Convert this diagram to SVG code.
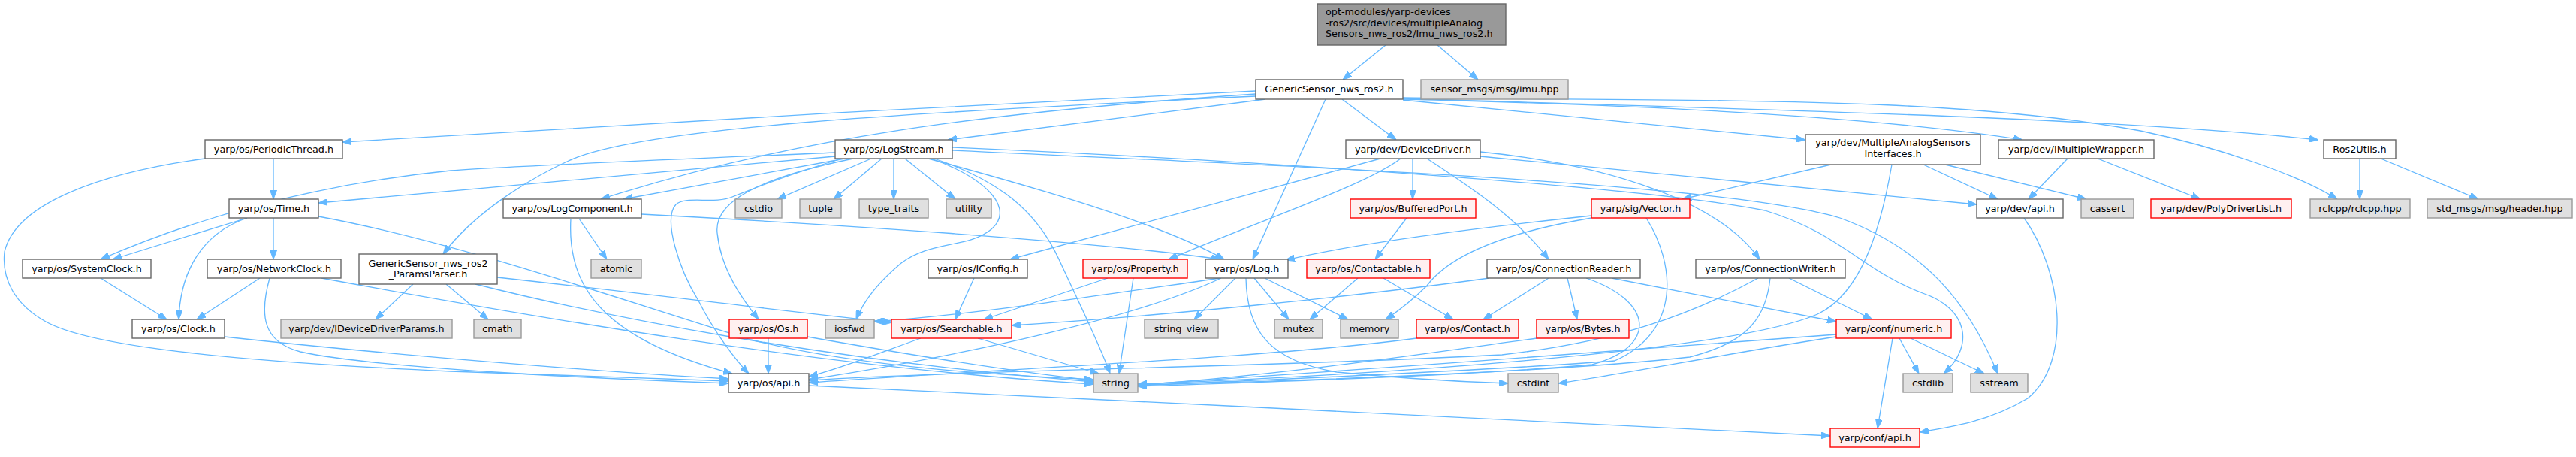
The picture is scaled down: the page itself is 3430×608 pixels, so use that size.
<svg xmlns="http://www.w3.org/2000/svg" width="3430" height="608" viewBox="0 0 3430 608">
<style>
.e path{fill:none;stroke:#63b8ff;stroke-width:1.3;marker-end:url(#a)}
rect{stroke-width:1.4}
.w rect{fill:#fff;stroke:#666}
.g rect{fill:#e0e0e0;stroke:#999}
.r rect{fill:#fff0f0;stroke:#f00}
.t rect{fill:#999;stroke:#666}
text{font-family:"DejaVu Sans","Liberation Sans",sans-serif;font-size:12.8px;fill:#000;text-anchor:middle}
.t text{text-anchor:start}
</style>
<defs>
<marker id="a" markerUnits="userSpaceOnUse" markerWidth="12" markerHeight="9" refX="12" refY="4.5" orient="auto" viewBox="0 0 12 9"><path d="M0,0L12,4.5L0,9z" fill="#63b8ff" stroke="#63b8ff" stroke-width="1"/></marker>
</defs>
<rect x="0" y="0" width="3430" height="608" fill="#fff" stroke="none"/>
<g id="edges" class="e">
<path d="M1845,60 L1788,106"/>
<path d="M1914,60 L1968,106"/>
<path d="M1672,121 C1300,138 800,168 456,189"/>
<path d="M1685,132 L1262,186"/>
<path d="M1672,125 C1300,150 1050,185 800,265"/>
<path d="M1672,128 C1200,150 850,170 757,214 C700,240 630,285 590,338"/>
<path d="M1787,132 L1859,186"/>
<path d="M1765,132 L1668,345"/>
<path d="M1868,133 L2404,186"/>
<path d="M1868,132 C2200,140 2500,155 2693,186"/>
<path d="M1868,131 C2300,145 2800,155 3087,186"/>
<path d="M1868,130 C2300,135 2600,128 2850,174 C2950,195 3060,232 3112,265"/>
<path d="M364,211 L364,265"/>
<path d="M273,211 C120,232 20,275 6,335 C2,372 20,405 61,428 C110,455 250,478 600,494 C750,500 880,504 970,507"/>
<path d="M1160,211 L1035,265"/>
<path d="M1174,211 L1110,265"/>
<path d="M1190,211 L1190,265"/>
<path d="M1205,211 L1272,265"/>
<path d="M1112,208 L424,270"/>
<path d="M1112,203 C900,212 700,220 600,227 C420,245 260,290 134,345"/>
<path d="M1125,211 L830,265"/>
<path d="M1236,211 C1400,255 1550,300 1630,345"/>
<path d="M1136,211 C1020,235 950,265 955,310 C960,360 990,400 1010,425"/>
<path d="M1121,211 C1050,232 1000,252 975,262 C950,272 915,260 900,272 C882,292 905,360 930,400 C950,440 980,480 997,497"/>
<path d="M1240,211 C1320,240 1350,280 1320,305 C1290,330 1240,320 1200,350 C1170,375 1150,400 1140,425"/>
<path d="M1244,211 C1330,240 1380,280 1410,345 C1440,410 1465,460 1478,497"/>
<path d="M1268,196 C1700,215 2200,250 2350,280 C2450,310 2480,360 2560,390 C2620,410 2630,460 2588,497"/>
<path d="M1268,200 C1800,225 2300,245 2450,290 C2560,330 2620,400 2660,497"/>
<path d="M1881,211 L1881,265"/>
<path d="M1838,211 L1345,345"/>
<path d="M1865,211 C1820,245 1700,285 1556,345"/>
<path d="M1900,211 C1960,250 2020,290 2062,345"/>
<path d="M1971,202 C2150,220 2290,270 2343,345"/>
<path d="M1971,208 L2632,272"/>
<path d="M2438,219 L2240,265"/>
<path d="M2561,219 L2660,265"/>
<path d="M2590,219 L2778,265"/>
<path d="M2519,219 C2505,300 2480,390 2420,418 C2300,470 1800,500 1515,511"/>
<path d="M2753,211 L2701,265"/>
<path d="M2793,211 L2930,265"/>
<path d="M3142,211 L3142,265"/>
<path d="M3170,211 L3300,265"/>
<path d="M329,290 L150,345"/>
<path d="M329,290 C270,310 240,360 238,425"/>
<path d="M364,290 L364,345"/>
<path d="M424,288 C600,320 800,390 1000,452 C1150,490 1350,500 1456,505"/>
<path d="M134,370 L222,425"/>
<path d="M346,370 L262,425"/>
<path d="M359,370 C345,420 350,455 400,468 C500,490 800,504 970,510"/>
<path d="M428,370 C700,420 1100,490 1456,511"/>
<path d="M299,448 C500,470 800,495 970,504"/>
<path d="M550,378 L500,425"/>
<path d="M594,378 L650,425"/>
<path d="M662,369 C900,395 1050,415 1188,429"/>
<path d="M633,378 C800,420 1100,480 1456,508"/>
<path d="M771,291 L808,345"/>
<path d="M760,291 C755,380 800,450 975,497"/>
<path d="M854,285 C1100,298 1450,320 1625,345"/>
<path d="M1297,370 L1272,425"/>
<path d="M1475,370 L1310,425"/>
<path d="M1509,370 L1490,497"/>
<path d="M1625,370 C1450,395 1300,418 1164,428"/>
<path d="M1626,370 C1520,420 1300,470 1077,505"/>
<path d="M1645,370 L1590,425"/>
<path d="M1670,370 L1716,425"/>
<path d="M1684,370 L1795,425"/>
<path d="M1659,370 C1660,440 1690,480 1780,495 C1880,505 1950,508 2008,510"/>
<path d="M1873,290 L1831,345"/>
<path d="M2119,287 C1950,305 1800,325 1712,346"/>
<path d="M2119,290 C2000,310 1930,340 1900,380 C1880,400 1860,415 1845,425"/>
<path d="M2192,290 C2230,350 2240,440 2150,480 C2000,492 1700,505 1515,513"/>
<path d="M1808,370 L1744,425"/>
<path d="M1842,370 L1935,425"/>
<path d="M1983,370 C1800,395 1550,420 1347,433"/>
<path d="M2062,370 L1975,425"/>
<path d="M2087,370 L2100,425"/>
<path d="M2112,370 C2200,400 2210,460 2120,485 C1950,500 1700,508 1515,514"/>
<path d="M2146,370 L2445,428"/>
<path d="M2382,370 L2493,425"/>
<path d="M2357,370 C2352,420 2330,455 2250,475 C2100,492 1800,505 1515,512"/>
<path d="M2341,370 C2250,420 2150,455 2000,472 C1700,488 1300,492 1077,506"/>
<path d="M1023,450 L1023,497"/>
<path d="M1075,448 C1200,470 1350,495 1456,506"/>
<path d="M1226,450 C1170,470 1120,490 1077,501"/>
<path d="M1302,450 L1463,497"/>
<path d="M1886,450 C1700,475 1350,490 1077,509"/>
<path d="M2046,450 C1900,470 1700,500 1515,512"/>
<path d="M2520,450 L2500,570"/>
<path d="M2529,450 L2555,497"/>
<path d="M2544,450 L2642,497"/>
<path d="M2445,448 C2300,470 2150,500 2075,510"/>
<path d="M2445,445 C2200,465 1800,492 1515,512"/>
<path d="M2695,290 C2745,360 2760,480 2700,530 C2650,560 2600,568 2556,575"/>
<path d="M1077,513 C1500,535 2100,560 2437,580"/>
</g>
<g id="node-root" class="t"><rect x="1754" y="5" width="251" height="55"/><text x="1765" y="20">opt-modules/yarp-devices</text><text x="1765" y="34.5">-ros2/src/devices/multipleAnalog</text><text x="1765" y="49">Sensors_nws_ros2/Imu_nws_ros2.h</text></g>
<g id="node-gs" class="w"><rect x="1672" y="106" width="196" height="26"/><text x="1770" y="123">GenericSensor_nws_ros2.h</text></g>
<g id="node-imu" class="g"><rect x="1892" y="106" width="196" height="26"/><text x="1990" y="123">sensor_msgs/msg/imu.hpp</text></g>
<g id="node-pt" class="w"><rect x="273" y="186" width="183" height="25"/><text x="364.5" y="202.5">yarp/os/PeriodicThread.h</text></g>
<g id="node-ls" class="w"><rect x="1112" y="186" width="156" height="25"/><text x="1190" y="202.5">yarp/os/LogStream.h</text></g>
<g id="node-dd" class="w"><rect x="1792" y="186" width="179" height="25"/><text x="1881.5" y="202.5">yarp/dev/DeviceDriver.h</text></g>
<g id="node-mas" class="w"><rect x="2404" y="179" width="233" height="40"/><text x="2520.5" y="194">yarp/dev/MultipleAnalogSensors</text><text x="2520.5" y="208.5">Interfaces.h</text></g>
<g id="node-imw" class="w"><rect x="2661" y="186" width="207" height="25"/><text x="2764.5" y="202.5">yarp/dev/IMultipleWrapper.h</text></g>
<g id="node-r2u" class="w"><rect x="3094" y="186" width="96" height="25"/><text x="3142" y="202.5">Ros2Utils.h</text></g>
<g id="node-time" class="w"><rect x="305" y="265" width="119" height="25"/><text x="364.5" y="281.5">yarp/os/Time.h</text></g>
<g id="node-lc" class="w"><rect x="670" y="265" width="184" height="25"/><text x="762" y="281.5">yarp/os/LogComponent.h</text></g>
<g id="node-cstdio" class="g"><rect x="979" y="265" width="62" height="25"/><text x="1010" y="281.5">cstdio</text></g>
<g id="node-tuple" class="g"><rect x="1065" y="265" width="55" height="25"/><text x="1092.5" y="281.5">tuple</text></g>
<g id="node-typetraits" class="g"><rect x="1144" y="265" width="92" height="25"/><text x="1190" y="281.5">type_traits</text></g>
<g id="node-utility" class="g"><rect x="1260" y="265" width="60" height="25"/><text x="1290" y="281.5">utility</text></g>
<g id="node-bp" class="r"><rect x="1798" y="265" width="167" height="25"/><text x="1881.5" y="281.5">yarp/os/BufferedPort.h</text></g>
<g id="node-vec" class="r"><rect x="2119" y="265" width="131" height="25"/><text x="2184.5" y="281.5">yarp/sig/Vector.h</text></g>
<g id="node-devapi" class="w"><rect x="2632" y="265" width="115" height="25"/><text x="2689.5" y="281.5">yarp/dev/api.h</text></g>
<g id="node-cassert" class="g"><rect x="2771" y="265" width="70" height="25"/><text x="2806" y="281.5">cassert</text></g>
<g id="node-pdl" class="r"><rect x="2864" y="265" width="187" height="25"/><text x="2957.5" y="281.5">yarp/dev/PolyDriverList.h</text></g>
<g id="node-rclcpp" class="g"><rect x="3076" y="265" width="133" height="25"/><text x="3142.5" y="281.5">rclcpp/rclcpp.hpp</text></g>
<g id="node-stdmsgs" class="g"><rect x="3232" y="265" width="193" height="25"/><text x="3328.5" y="281.5">std_msgs/msg/header.hpp</text></g>
<g id="node-sc" class="w"><rect x="30" y="345" width="171" height="25"/><text x="115.5" y="361.5">yarp/os/SystemClock.h</text></g>
<g id="node-nc" class="w"><rect x="276" y="345" width="178" height="25"/><text x="365" y="361.5">yarp/os/NetworkClock.h</text></g>
<g id="node-gsp" class="w"><rect x="478" y="338" width="184" height="40"/><text x="570" y="354.5">GenericSensor_nws_ros2</text><text x="570" y="368.5">_ParamsParser.h</text></g>
<g id="node-atomic" class="g"><rect x="787" y="345" width="67" height="25"/><text x="820.5" y="361.5">atomic</text></g>
<g id="node-iconfig" class="w"><rect x="1236" y="345" width="132" height="25"/><text x="1302" y="361.5">yarp/os/IConfig.h</text></g>
<g id="node-prop" class="r"><rect x="1442" y="345" width="139" height="25"/><text x="1511.5" y="361.5">yarp/os/Property.h</text></g>
<g id="node-log" class="w"><rect x="1605" y="345" width="110" height="25"/><text x="1660" y="361.5">yarp/os/Log.h</text></g>
<g id="node-ctbl" class="r"><rect x="1740" y="345" width="164" height="25"/><text x="1822" y="361.5">yarp/os/Contactable.h</text></g>
<g id="node-cr" class="w"><rect x="1980" y="345" width="204" height="25"/><text x="2082" y="361.5">yarp/os/ConnectionReader.h</text></g>
<g id="node-cw" class="w"><rect x="2258" y="345" width="199" height="25"/><text x="2357.5" y="361.5">yarp/os/ConnectionWriter.h</text></g>
<g id="node-clock" class="w"><rect x="176" y="425" width="123" height="25"/><text x="237.5" y="441.5">yarp/os/Clock.h</text></g>
<g id="node-iddp" class="g"><rect x="374" y="425" width="228" height="25"/><text x="488" y="441.5">yarp/dev/IDeviceDriverParams.h</text></g>
<g id="node-cmath" class="g"><rect x="631" y="425" width="63" height="25"/><text x="662.5" y="441.5">cmath</text></g>
<g id="node-os" class="r"><rect x="971" y="425" width="104" height="25"/><text x="1023" y="441.5">yarp/os/Os.h</text></g>
<g id="node-iosfwd" class="g"><rect x="1099" y="425" width="65" height="25"/><text x="1131.5" y="441.5">iosfwd</text></g>
<g id="node-search" class="r"><rect x="1187" y="425" width="160" height="25"/><text x="1267" y="441.5">yarp/os/Searchable.h</text></g>
<g id="node-strview" class="g"><rect x="1524" y="425" width="98" height="25"/><text x="1573" y="441.5">string_view</text></g>
<g id="node-mutex" class="g"><rect x="1697" y="425" width="64" height="25"/><text x="1729" y="441.5">mutex</text></g>
<g id="node-memory" class="g"><rect x="1785" y="425" width="77" height="25"/><text x="1823.5" y="441.5">memory</text></g>
<g id="node-contact" class="r"><rect x="1886" y="425" width="136" height="25"/><text x="1954" y="441.5">yarp/os/Contact.h</text></g>
<g id="node-bytes" class="r"><rect x="2046" y="425" width="123" height="25"/><text x="2107.5" y="441.5">yarp/os/Bytes.h</text></g>
<g id="node-numeric" class="r"><rect x="2445" y="425" width="153" height="25"/><text x="2521.5" y="441.5">yarp/conf/numeric.h</text></g>
<g id="node-osapi" class="w"><rect x="970" y="497" width="107" height="25"/><text x="1023.5" y="513.5">yarp/os/api.h</text></g>
<g id="node-string" class="g"><rect x="1456" y="497" width="59" height="25"/><text x="1485.5" y="513.5">string</text></g>
<g id="node-cstdint" class="g"><rect x="2008" y="497" width="67" height="25"/><text x="2041.5" y="513.5">cstdint</text></g>
<g id="node-cstdlib" class="g"><rect x="2534" y="497" width="66" height="25"/><text x="2567" y="513.5">cstdlib</text></g>
<g id="node-sstream" class="g"><rect x="2624" y="497" width="76" height="25"/><text x="2662" y="513.5">sstream</text></g>
<g id="node-confapi" class="r"><rect x="2437" y="570" width="119" height="25"/><text x="2496.5" y="586.5">yarp/conf/api.h</text></g>
</svg>
